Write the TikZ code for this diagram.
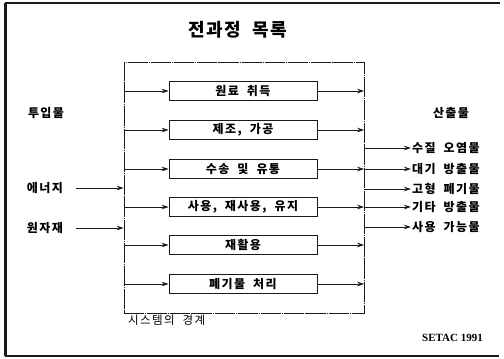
\documentclass[tikz,border=0pt]{standalone}
\usepackage{fontspec}
\newfontfamily\kr[LetterSpace=12]{Noto Sans CJK KR}
\newfontfamily\krt[LetterSpace=6]{Noto Sans CJK KR}
\newfontfamily\setacfont{Liberation Serif}
\usetikzlibrary{arrows.meta}
\newcommand\wgap{\hspace{8pt}}
\definecolor{ink}{HTML}{1A1A1A}
\tikzset{
  arr/.style={draw=ink, line width=0.8pt, -{Stealth[length=7pt,width=4.5pt]}},
  procbox/.style={draw=ink, line width=0.7pt, minimum width=148pt, minimum height=19pt,
    inner sep=0pt, font=\kr\bfseries\fontsize{12}{13}\selectfont},
  boundary/.style={draw=ink, line width=0.5pt, dash pattern=on 20pt off 1pt on 0.8pt off 1pt,
    minimum width=240pt, minimum height=251pt, inner sep=0pt},
  inlbl/.style={font=\kr\bfseries\fontsize{12}{13}\selectfont, inner sep=0pt},
  outlbl/.style={font=\kr\bfseries\fontsize{12}{13}\selectfont, inner sep=1pt, anchor=west},
}
\begin{document}
\begin{tikzpicture}[x=1pt,y=-1pt]
\useasboundingbox (0,0) rectangle (504,359);
% frame
\draw[ink, line width=2pt] (500,3) -- (5.5,3) -- (5.5,356) -- (499,356);
\draw[ink, line width=1pt] (4,3) -- (4,356);
% title
\node[font=\krt\bfseries\fontsize{18}{20}\selectfont, inner sep=0pt] (title) at (238,30) {전과정\hspace{12pt}목록};
% system boundary
\node[boundary] (sys) at (244,187.5) {};
\node[font=\kr\fontsize{11.5}{12}\selectfont, anchor=west, inner sep=0pt] (syslbl) at (128,320) {시스템의\wgap 경계};
% processes
\node[procbox] (p1) at (243,91) {원료\wgap 취득};
\node[procbox] (p2) at (243,130) {제조,\wgap 가공};
\node[procbox] (p3) at (243,169) {수송\wgap 및\wgap 유통};
\node[procbox] (p4) at (243,207) {사용,\wgap 재사용,\wgap 유지};
\node[procbox] (p5) at (243,245) {재활용};
\node[procbox] (p6) at (243,284) {폐기물\wgap 처리};
\foreach \p in {p1,p2,p3,p4,p5,p6}{
  \draw[arr] (sys.west |- \p) -- (\p.west);
  \draw[arr] (\p.east) -- (\p -| sys.east);
}
% inputs
\node[inlbl] (inp) at (46,113) {투입물};
\node[inlbl] (en) at (45,188) {에너지};
\node[inlbl] (raw) at (45,228) {원자재};
\draw[arr] ([xshift=13pt]en.east) -- (en -| sys.west);
\draw[arr] ([xshift=13pt]raw.east) -- (raw -| sys.west);
% outputs
\node[inlbl] (outp) at (451,113) {산출물};
\node[outlbl] (o1) at (411,148) {수질\wgap 오염물};
\node[outlbl] (o2) at (411,169) {대기\wgap 방출물};
\node[outlbl] (o3) at (411,189) {고형\wgap 폐기물};
\node[outlbl] (o4) at (411,207) {기타\wgap 방출물};
\node[outlbl] (o5) at (411,227) {사용\wgap 가능물};
\foreach \o in {o1,o2,o3,o4,o5}{
  \draw[arr] (sys.east |- \o) -- (\o.west);
}
% source
\node[font=\setacfont\bfseries\fontsize{11}{12}\selectfont, anchor=east, inner sep=0pt] (src) at (483,338) {SETAC 1991};
\end{tikzpicture}
\end{document}
